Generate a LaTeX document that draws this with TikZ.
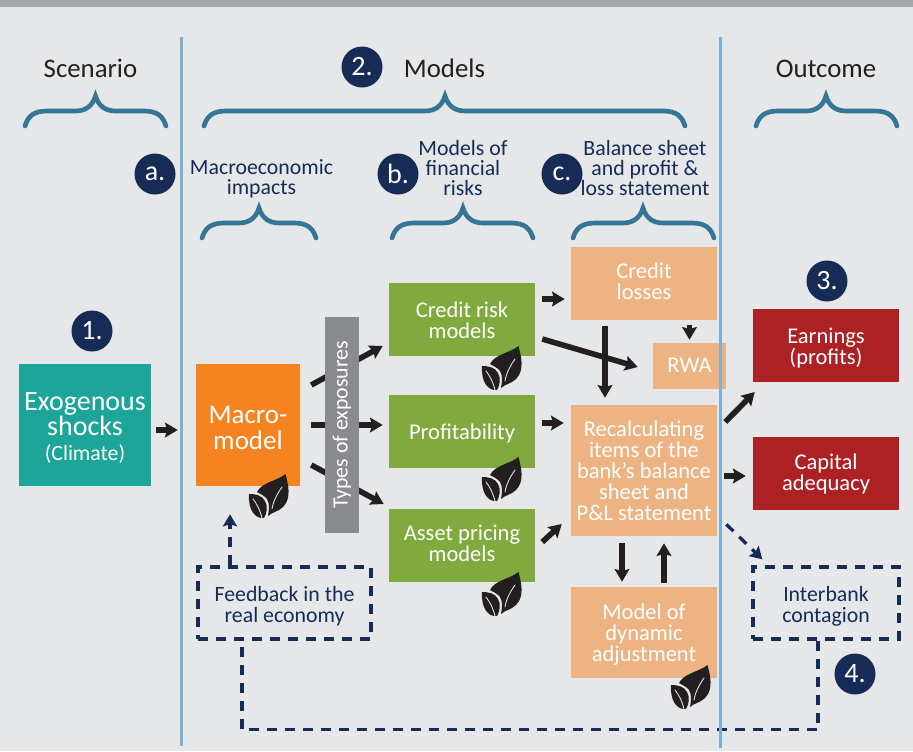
\documentclass[tikz,border=0pt]{standalone}
\usepackage{fontspec}
\setmainfont{Carlito}
\usetikzlibrary{arrows.meta,calc}
\definecolor{bgc}{HTML}{E6E7E9}
\definecolor{topc}{HTML}{A7A8AC}
\definecolor{navyc}{HTML}{172B57}
\definecolor{inkc}{HTML}{231F20}
\definecolor{tealc}{HTML}{1CA598}
\definecolor{orangec}{HTML}{F58420}
\definecolor{greenc}{HTML}{80A93E}
\definecolor{peachc}{HTML}{EDB383}
\definecolor{redc}{HTML}{AD2124}
\definecolor{greyc}{HTML}{8A8B8F}
\definecolor{linec}{HTML}{7BAFD4}
\definecolor{bracec}{HTML}{357596}
\newcommand{\fpx}[2]{\fontsize{\dimexpr#1pt*3/4\relax}{\dimexpr#2pt*3/4\relax}\selectfont}
\newcommand{\dn}[2]{\raisebox{\dimexpr0pt-#1pt*3/4\relax}[\height][\depth]{\vbox{\lineskiplimit=-\maxdimen\let\\\cr\halign{\hfil##\hfil\cr #2\crcr}}}}
\newcommand{\bracepx}[4]{\draw[curly] (#1,{#4+30}) .. controls ({#1+3},{#4+20}) and ({#1+9},{#4+15}) .. ({#1+22},{#4+15}) -- ({#2-20},{#4+15}) .. controls ({#2-10},{#4+15}) and ({#2-3},{#4+10}) .. (#2,#4) .. controls ({#2+3},{#4+10}) and ({#2+10},{#4+15}) .. ({#2+20},{#4+15}) -- ({#3-22},{#4+15}) .. controls ({#3-9},{#4+15}) and ({#3-3},{#4+20}) .. (#3,{#4+30});}
\tikzset{
  x=0.75pt,y=-0.75pt,
  wh/.style 2 args={minimum width=#1*0.75pt,minimum height=#2*0.75pt},
  box/.style={inner sep=0pt,text=white,align=center,font=\fpx{22.5}{21}},
  dashbox/.style={inner sep=0pt,text=navyc,align=center,font=\fpx{21.8}{21},draw=navyc,line width=2.5pt,dash pattern=on 7.5pt off 6pt},
  head/.style={text=inkc,font=\fpx{26.8}{26},inner sep=0pt},
  sub/.style={text=navyc,align=center,font=\fpx{21.8}{20.3},inner sep=0pt},
  badge/.style={circle,fill=navyc,text=white,minimum size=41*0.75pt,inner sep=0pt,font=\fpx{28}{26}},
  curly/.style={draw=bracec,line width=3.5pt,line cap=round},
  arr/.style={draw=inkc,line width=4.2pt,-{Stealth[length=9.5pt,width=11pt,inset=1.5pt]}},
  dasharr/.style={draw=navyc,line width=2.5pt,dash pattern=on 7.5pt off 6pt,-{Stealth[length=9pt,width=10.5pt,inset=1.5pt]}},
  dashlink/.style={draw=navyc,line width=2.5pt,dash pattern=on 7.5pt off 6pt},
  divider/.style={draw=linec,line width=2.1pt},
  leaf/.pic={
    \fill[inkc] (36.5,0) .. controls (39,10) and (43,24) .. (34,33) .. controls (29,38) and (23,38) .. (19,42) .. controls (20,36) and (21,30) .. (18,25) .. controls (15,21) and (11,20) .. (8,18) .. controls (13,8) and (28,7) .. (36.5,0) -- cycle;
    \fill[inkc] (0,20) .. controls (6,20) and (13,21) .. (16,27) .. controls (19,32) and (18,39) .. (15,44) .. controls (6,45) and (-1,36) .. (0,20) -- cycle;
    \draw[bgc,line width=0.65pt,line cap=round] (33,13) .. controls (28,20) and (24,28) .. (23,35);
    \draw[bgc,line width=0.65pt,line cap=round] (4,25) .. controls (8,30) and (11,36) .. (13,44);
  }
}
\begin{document}
\begin{tikzpicture}
\useasboundingbox (0,0) rectangle (913,751);
\fill[bgc] (0,0) rectangle (913,751);
\fill[topc] (0,0) rectangle (913,7);

\node[box,fill=tealc,wh={132}{122},font=\fpx{28}{25}] (exog) at (85,425) {\dn{3}{Exogenous\\shocks\\{\fpx{21.8}{21}(Climate)}}};
\node[box,fill=orangec,wh={104}{122},font=\fpx{27}{26}] (macro) at (248,425) {\dn{2.5}{Macro-\\model}};
\node[box,fill=greenc,wh={146}{73}] (credit) at (462,319.5) {\dn{1}{Credit risk\\models}};
\node[box,fill=greenc,wh={146}{73}] (prof) at (462,431.5) {\dn{2}{Profitability}};
\node[box,fill=greenc,wh={146}{73}] (asset) at (462,545.5) {\dn{-2.5}{Asset pricing\\models}};
\node[box,fill=peachc,wh={146}{73}] (losses) at (644,283.5) {\dn{-2}{Credit\\losses}};
\node[box,fill=peachc,wh={73}{46}] (rwa) at (689.5,366) {\dn{-1}{RWA}};
\node[box,fill=peachc,wh={146}{131}] (recalc) at (644,470.5) {\dn{0.5}{Recalculating\\items of the\\bank’s balance\\sheet and\\P\&L statement}};
\node[box,fill=peachc,wh={146}{91}] (dyn) at (644,632.5) {\dn{2}{Model of\\dynamic\\adjustment}};
\node[box,fill=redc,wh={146}{73}] (earn) at (826,345.5) {\dn{3}{Earnings\\(profits)}};
\node[box,fill=redc,wh={146}{73}] (cap) at (826,473.5) {\dn{0}{Capital\\adequacy}};

\draw[arr] ([shift={(5,5)}]exog.east) -- ([shift={(-18,5)}]macro.west);
\draw[arr] ([shift={(11,-40)}]macro.east) -- ([shift={(-6,26.5)}]credit.west);
\draw[arr] ([shift={(11,0)}]macro.east) -- ([shift={(-6,-6.5)}]prof.west);
\draw[arr] ([shift={(11,40)}]macro.east) -- ([shift={(-5,-41.5)}]asset.west);

\node[fill=greyc,wh={216}{34},inner sep=0pt,rotate=90,text=white,font=\fpx{21.8}{24}] (types) at (342,425) {Types of exposures};

\draw[arr] ([shift={(7,-20.5)}]credit.east) -- ([shift={(-6,15.5)}]losses.west);
\draw[arr] ([shift={(7,19.5)}]credit.east) -- ([shift={(-15,1)}]rwa.west);
\draw[arr] ([shift={(-39,6)}]losses.south) -- ([shift={(-39,-7)}]recalc.north);
\draw[arr,line width=3.4pt] ([shift={(45.5,5)}]losses.south) -- ([shift={(0,-3)}]rwa.north);
\draw[arr] ([shift={(7,-8.5)}]prof.east) -- ([shift={(-7,-47.5)}]recalc.west);
\draw[arr] ([shift={(7,-3.5)}]asset.east) -- ([shift={(-9,53.5)}]recalc.west);
\draw[arr] ([shift={(8,-48.5)}]recalc.east) -- ([shift={(2,46.5)}]earn.west);
\draw[arr] ([shift={(7,5.5)}]recalc.east) -- ([shift={(-7,2.5)}]cap.west);
\draw[arr] ([shift={(-22,7)}]recalc.south) -- ([shift={(-22,-5)}]dyn.north);
\draw[arr] ([shift={(20,-4)}]dyn.north) -- ([shift={(20,7)}]recalc.south);

\node[dashbox,wh={173}{72}] (fb) at (284.5,603) {\dn{3}{Feedback in the\\real economy}};
\node[dashbox,wh={146}{72}] (intbk) at (826,603) {\dn{3.5}{Interbank\\contagion}};
\draw[dasharr] ([shift={(-54.5,0)}]fb.north) -- ([shift={(-18,28)}]macro.south);
\draw[dasharr] ([shift={(9,-12)}]recalc.south east) -- ([shift={(11,-6)}]intbk.north west);
\draw[dashlink] ([shift={(-8,0)}]intbk.south) -- ++(0,89) -| ([shift={(-42.5,0)}]fb.south);

\draw[divider] (181.5,37) -- (181.5,746);
\draw[divider] (720.5,37) -- (720.5,748);

\pic at (249,474) {leaf};
\pic at (482,346) {leaf};
\pic at (482,457) {leaf};
\pic at (482,572) {leaf};
\pic at (671,665) {leaf};

\node[head] (hscen) at (90.5,68) {Scenario};
\node[head] (hmod) at (444.5,68) {Models};
\node[head] (hout) at (826,68.5) {Outcome};
\bracepx{25}{95.5}{166}{96}
\bracepx{204}{445}{685}{96}
\bracepx{756}{826}{897}{96}
\bracepx{202}{259}{316}{208}
\bracepx{392}{463}{533}{208}
\bracepx{573}{643}{714}{208}
\node[sub] (smac) at (261.5,179) {Macroeconomic\\impacts};
\node[sub] (sfin) at (463,168) {Models of\\financial\\risks};
\node[sub] (sbal) at (645,168) {Balance sheet\\and profit \&\\loss statement};
\node[badge] (n2) at (362,67) {2.};
\node[badge] (na) at (155,174) {a.};
\node[badge] (nb) at (398,174) {b.};
\node[badge] (nc) at (562,174) {c.};
\node[badge] (n1) at (92,331) {1.};
\node[badge] (n3) at (827,281) {3.};
\node[badge] (n4) at (855,674) {4.};
\end{tikzpicture}
\end{document}
